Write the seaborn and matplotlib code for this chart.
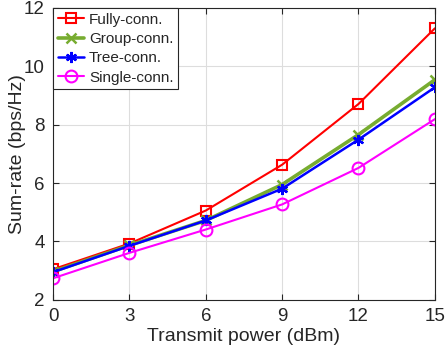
import matplotlib
matplotlib.use("Agg")
import matplotlib.pyplot as plt
import seaborn as sns
import pandas as pd

sns.set_style("ticks")
plt.rcParams['font.family'] = ['Liberation Sans', 'DejaVu Sans']

power = [0, 3, 6, 9, 12, 15]
fully = [3.05, 3.93, 5.06, 6.63, 8.71, 11.30]
group = [2.97, 3.87, 4.72, 5.95, 7.66, 9.54]
tree = [2.95, 3.85, 4.72, 5.81, 7.49, 9.28]
single = [2.74, 3.61, 4.41, 5.27, 6.52, 8.19]
labels = ["Fully-conn.", "Group-conn.", "Tree-conn.", "Single-conn."]

series = [fully, group, tree, single]
styles = [
    dict(color="#FF0000", marker="s", lw=1.5, ms=7.5, mfc="none", mew=1.5),
    dict(color="#77AC30", marker="x", lw=2.6, ms=6.5, mfc="none", mew=1.8),
    dict(color="#0000FF", marker=(6, 2, 0), lw=1.8, ms=8, mfc="none", mew=1.6),
    dict(color="#FF00FF", marker="o", lw=1.5, ms=8.5, mfc="none", mew=1.5),
]

fig = plt.figure(figsize=(4.46, 3.6), dpi=100)
ax = fig.add_axes([0.119, 0.167, 0.856, 0.811])

for vals, lab, st in zip(series, labels, styles):
    df = pd.DataFrame({"x": power, "y": vals})
    sns.lineplot(data=df, x="x", y="y", ax=ax, label=lab, color=st["color"],
                 marker=st["marker"], linewidth=st["lw"], markersize=st["ms"],
                 markerfacecolor=st["mfc"], markeredgecolor=st["color"],
                 markeredgewidth=st["mew"])

ax.set_xlim(0, 15)
ax.set_ylim(2, 12)
ax.set_xticks(power)
ax.set_yticks([2, 4, 6, 8, 10, 12])
ax.grid(True, color="#DDDDDD", linewidth=0.8)
ax.tick_params(direction="in", length=4, labelsize=13.5, colors="#262626",
               top=True, right=True, pad=6)
for s in ax.spines.values():
    s.set_color("#262626")
    s.set_linewidth(0.8)
ax.set_xlabel("Transmit power (dBm)", fontsize=14, color="#262626", labelpad=2)
ax.set_ylabel("Sum-rate (bps/Hz)", fontsize=14, color="#262626", labelpad=0)
ax.yaxis.set_label_coords(-0.072, 0.5)

leg = ax.legend(loc="upper left", fontsize=11, frameon=True, fancybox=False,
                edgecolor="#262626", borderaxespad=0, handlelength=1.7,
                handletextpad=0.35, labelspacing=0.35, borderpad=0.3)
leg.get_frame().set_linewidth(0.8)
leg.get_frame().set_alpha(1)

fig.savefig("out.png", dpi=100)
